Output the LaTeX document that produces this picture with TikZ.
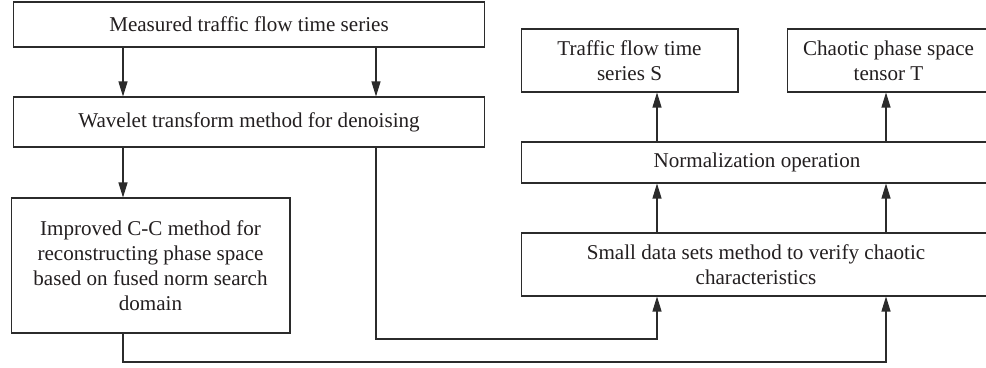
\documentclass[tikz,border=0pt]{standalone}
\usepackage{fontspec}
\setmainfont{Liberation Serif}
\usepackage{tikz}
\usetikzlibrary{arrows.meta,positioning}
\definecolor{lineink}{HTML}{2B2B2B}
\definecolor{textink}{HTML}{231F20}

\begin{document}
\begin{tikzpicture}[
    x=0.02cm, y=-0.02cm,
    fbox/.style={rectangle, draw=lineink, line width=0.6pt, fill=white, font=\fontsize{12}{14.2}\selectfont, text=textink, align=center, inner sep=2pt},
    arr/.style={-{Triangle[length=3mm,width=1.8mm]}, draw=lineink, line width=0.6pt}
]
\clip (0,0) rectangle (986,368);
\fill[white] (0,0) rectangle (986,368);

\node[fbox, minimum width=9.44cm, minimum height=0.9cm] (meas) at (249,24.5) {Measured traffic flow time series};
\node[fbox, minimum width=9.44cm, minimum height=1.0cm] (wave) at (249,122) {Wavelet transform method for denoising};
\node[fbox, minimum width=5.58cm, minimum height=2.7cm] (ccm) at (150.5,265.5) {Improved C-C method for\\reconstructing phase space\\based on fused norm search\\domain};
\node[fbox, minimum width=4.34cm, minimum height=1.26cm] (tser) at (629.5,60.5) {Traffic flow time\\series S};
\node[fbox, minimum width=4.06cm, minimum height=1.26cm] (tens) at (888.5,60.5) {Chaotic phase space\\tensor T};
\node[fbox, minimum width=9.44cm, minimum height=0.82cm] (norm) at (757,162.5) {Normalization operation};
\node[fbox, minimum width=9.4cm, minimum height=1.26cm] (sds) at (756,264.5) {Small data sets method to verify chaotic\\characteristics};

% columns of the connectors
\coordinate (cl) at (123,0);
\coordinate (cr) at (376,0);
\coordinate (nl) at (657,0);
\coordinate (nr) at (886,0);
\coordinate (bend1) at (376,339);
\coordinate (bend2) at (123,362);

\draw[arr] (meas.south -| cl) -- (wave.north -| cl);
\draw[arr] (meas.south -| cr) -- (wave.north -| cr);
\draw[arr] (wave.south -| cl) -- (ccm.north -| cl);
\draw[arr] (wave.south -| cr) -- (bend1) -- (bend1 -| nl) -- (sds.south -| nl);
\draw[arr] (ccm.south -| cl) -- (bend2) -- (bend2 -| nr) -- (sds.south -| nr);
\draw[arr] (sds.north -| nl) -- (norm.south -| nl);
\draw[arr] (sds.north -| nr) -- (norm.south -| nr);
\draw[arr] (norm.north -| nl) -- (tser.south -| nl);
\draw[arr] (norm.north -| nr) -- (tens.south -| nr);
\end{tikzpicture}
\end{document}
